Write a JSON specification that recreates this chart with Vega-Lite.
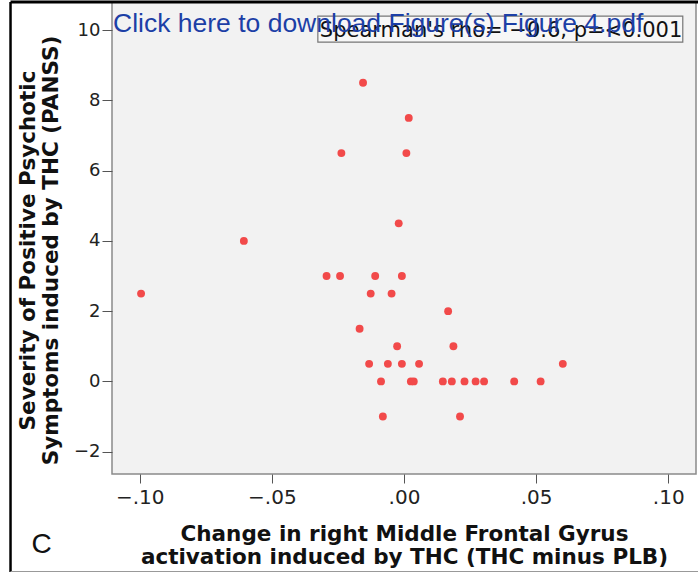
{
  "$schema": "https://vega.github.io/schema/vega-lite/v6.json",
  "width": 584,
  "height": 472,
  "autosize": {"type": "none"},
  "padding": {"left": 112, "top": 2, "right": 2, "bottom": 98},
  "background": "white",
  "config": {
    "view": {"fill": "#f2f2f2", "stroke": "#8a8a8a", "strokeWidth": 1.5},
    "font": "DejaVu Sans"
  },
  "datasets": {
    "points": [
      {"x": -0.0995, "y": 2.5},
      {"x": -0.0606, "y": 4},
      {"x": -0.0155, "y": 8.5},
      {"x": 0.0018, "y": 7.5},
      {"x": -0.0237, "y": 6.5},
      {"x": 0.0009, "y": 6.5},
      {"x": -0.0020, "y": 4.5},
      {"x": -0.0293, "y": 3},
      {"x": -0.0242, "y": 3},
      {"x": -0.0109, "y": 3},
      {"x": -0.0008, "y": 3},
      {"x": -0.0126, "y": 2.5},
      {"x": -0.0047, "y": 2.5},
      {"x": 0.0167, "y": 2},
      {"x": -0.0168, "y": 1.5},
      {"x": -0.0026, "y": 1},
      {"x": 0.0187, "y": 1},
      {"x": -0.0132, "y": 0.5},
      {"x": -0.0061, "y": 0.5},
      {"x": -0.0008, "y": 0.5},
      {"x": 0.0057, "y": 0.5},
      {"x": 0.0601, "y": 0.5},
      {"x": -0.0087, "y": 0},
      {"x": 0.0026, "y": 0},
      {"x": 0.0037, "y": 0},
      {"x": 0.0147, "y": 0},
      {"x": 0.0181, "y": 0},
      {"x": 0.0229, "y": 0},
      {"x": 0.0271, "y": 0},
      {"x": 0.0303, "y": 0},
      {"x": 0.0417, "y": 0},
      {"x": 0.0517, "y": 0},
      {"x": -0.0080, "y": -1},
      {"x": 0.0212, "y": -1}
    ],
    "one": [{}]
  },
  "layer": [
    {
      "data": {"name": "points"},
      "mark": {"type": "circle", "size": 62, "color": "#f24a4a", "opacity": 1},
      "encoding": {
        "x": {
          "field": "x",
          "type": "quantitative",
          "scale": {"domain": [-0.1105, 0.1105], "nice": false, "zero": false},
          "axis": {
            "values": [-0.1, -0.05, 0, 0.05, 0.1],
            "labelExpr": "replace(format(datum.value, '.2f'), '0.', '.')",
            "grid": false,
            "domain": false,
            "tickColor": "#555555",
            "tickSize": 9,
            "labelFontSize": 20,
            "labelColor": "#222222",
            "labelPadding": 4,
            "labelFont": "DejaVu Sans",
            "title": ["Change in right Middle Frontal Gyrus", "activation induced by THC (THC minus PLB)"],
            "titleFontSize": 21.5,
            "titleFontWeight": "bold",
            "titleColor": "#111111",
            "titleLineHeight": 23,
            "titlePadding": 16,
            "titleFont": "DejaVu Sans"
          }
        },
        "y": {
          "field": "y",
          "type": "quantitative",
          "scale": {"domain": [-2.635, 10.8], "nice": false, "zero": false},
          "axis": {
            "values": [-2, 0, 2, 4, 6, 8, 10],
            "grid": false,
            "domain": false,
            "tickColor": "#555555",
            "tickSize": 10,
            "labelFontSize": 18,
            "labelColor": "#222222",
            "labelPadding": 2,
            "labelFont": "DejaVu Sans",
            "title": ["Severity of Positive Psychotic", "Symptoms induced by THC (PANSS)"],
            "titleFontSize": 21.5,
            "titleFontWeight": "bold",
            "titleColor": "#111111",
            "titleLineHeight": 22.5,
            "titlePadding": 11,
            "titleY": 248,
            "titleFont": "DejaVu Sans"
          }
        }
      }
    },
    {
      "data": {"name": "one"},
      "mark": {"type": "rect", "fill": "#f7f7f7", "stroke": "#777777", "strokeWidth": 1.2},
      "encoding": {
        "x": {"datum": -0.0326},
        "x2": {"datum": 0.1055},
        "y": {"datum": 10.4},
        "y2": {"datum": 9.66}
      }
    },
    {
      "data": {"name": "one"},
      "mark": {"type": "text", "text": "Spearman's rho= −0.6, p=<0.001", "font": "DejaVu Sans", "fontSize": 21, "color": "#111111", "align": "left", "baseline": "alphabetic", "dx": 2},
      "encoding": {
        "x": {"datum": -0.0326},
        "y": {"datum": 9.8}
      }
    },
    {
      "data": {"name": "one"},
      "mark": {"type": "text", "text": "Click here to download Figure(s) Figure 4.pdf", "font": "Liberation Sans", "fontSize": 26.5, "color": "#1c3fa6", "align": "left", "baseline": "alphabetic", "dx": 1},
      "encoding": {
        "x": {"datum": -0.1105},
        "y": {"datum": 9.94}
      }
    },
    {
      "data": {"name": "one"},
      "mark": {"type": "text", "text": "C", "font": "Liberation Sans", "fontSize": 28, "color": "#111111", "align": "center", "baseline": "middle"},
      "encoding": {
        "x": {"datum": -0.1371},
        "y": {"datum": -4.66}
      }
    },
    {
      "data": {"name": "one"},
      "mark": {"type": "rule", "color": "#000000", "strokeWidth": 3},
      "encoding": {
        "x": {"datum": -0.1489},
        "x2": {"datum": 0.115},
        "y": {"datum": 10.8}
      }
    },
    {
      "data": {"name": "one"},
      "mark": {"type": "rule", "color": "#000000", "strokeWidth": 2.5},
      "encoding": {
        "x": {"datum": -0.1489},
        "y": {"datum": 10.8},
        "y2": {"datum": -5.5}
      }
    },
    {
      "data": {"name": "one"},
      "mark": {"type": "rule", "color": "#999999", "strokeWidth": 1.5},
      "encoding": {
        "x": {"datum": -0.1489},
        "x2": {"datum": 0.115},
        "y": {"datum": -5.42}
      }
    }
  ]
}
